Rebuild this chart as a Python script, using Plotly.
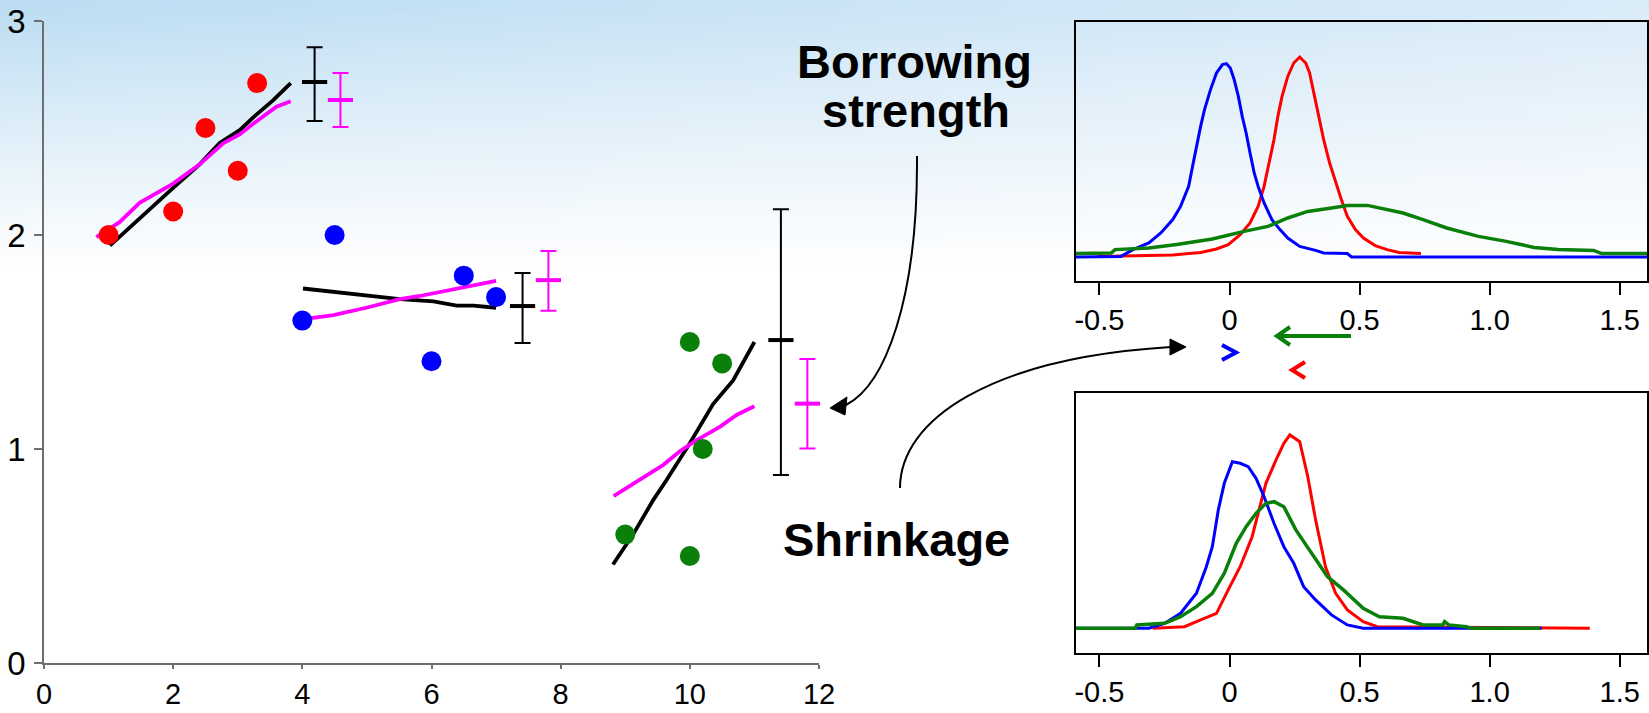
import zlib, struct, base64
import plotly.graph_objects as go

W, H = 1649, 713

# ---------------- main panel data ----------------
red_x = [1.0, 2.0, 2.5, 3.0, 3.3]
red_y = [2.0, 2.11, 2.5, 2.3, 2.71]
blue_x = [4.0, 4.5, 6.0, 6.5, 7.0]
blue_y = [1.6, 2.0, 1.41, 1.81, 1.71]
green_x = [9.0, 10.0, 10.0, 10.2, 10.5]
green_y = [0.6, 0.5, 1.5, 1.0, 1.4]

ols1_x = [1.02, 1.38, 2.0, 2.41, 2.72, 3.03, 3.24, 3.55, 3.82]
ols1_y = [1.95, 2.05, 2.22, 2.33, 2.43, 2.49, 2.55, 2.63, 2.71]
hb1_x = [0.81, 1.17, 1.48, 2.0, 2.41, 2.78, 3.03, 3.24, 3.6, 3.82]
hb1_y = [1.99, 2.06, 2.15, 2.24, 2.33, 2.43, 2.47, 2.52, 2.60, 2.625]

ols2_x = [4.01, 4.48, 4.99, 5.51, 6.03, 6.39, 6.65, 7.0]
ols2_y = [1.75, 1.735, 1.72, 1.70, 1.69, 1.67, 1.67, 1.66]
hb2_x = [3.99, 4.48, 4.99, 5.51, 5.82, 6.03, 6.39, 6.7, 7.0]
hb2_y = [1.606, 1.626, 1.66, 1.70, 1.715, 1.727, 1.75, 1.766, 1.786]

ols3_x = [8.81, 9.12, 9.43, 9.64, 10.0, 10.36, 10.67, 11.0]
ols3_y = [0.46, 0.60, 0.76, 0.855, 1.027, 1.21, 1.32, 1.50]
hb3_x = [8.82, 9.23, 9.59, 9.85, 10.1, 10.47, 10.73, 11.0]
hb3_y = [0.78, 0.856, 0.926, 0.99, 1.04, 1.105, 1.16, 1.20]

# interval estimates: position, centre, upper, lower
ols_ci_x = [4.19, 7.41, 11.41]
ols_ci_mid = [2.715, 1.668, 1.509]
ols_ci_hi = [2.877, 1.822, 2.12]
ols_ci_lo = [2.533, 1.495, 0.879]
hb_ci_x = [4.59, 7.81, 11.82]
hb_ci_mid = [2.631, 1.789, 1.212]
hb_ci_hi = [2.757, 1.925, 1.421]
hb_ci_lo = [2.505, 1.646, 1.002]

main_xticks = [0, 2, 4, 6, 8, 10, 12]
main_yticks = [0, 1, 2, 3]
inset_ticks = [-0.5, 0, 0.5, 1.0, 1.5]
inset_ticktext = ["-0.5", "0", "0.5", "1.0", "1.5"]

# ---------------- inset densities ----------------
top_blue_x = [-0.592, -0.417, -0.371, -0.31, -0.264, -0.218, -0.188, -0.157, -0.142, -0.127, -0.111, -0.096,
              -0.073, -0.05, -0.027, -0.012, 0.003, 0.018, 0.034, 0.049, 0.064, 0.079, 0.095, 0.11, 0.133,
              0.163, 0.194, 0.224, 0.27, 0.331, 0.362, 0.453, 0.469, 1.605]
top_blue_y = [0.0, 0.003, 0.037, 0.07, 0.12, 0.187, 0.253, 0.353, 0.453, 0.553, 0.653, 0.737,
              0.837, 0.92, 0.962, 0.967, 0.945, 0.887, 0.803, 0.703, 0.62, 0.52, 0.42, 0.353, 0.27,
              0.187, 0.137, 0.095, 0.053, 0.033, 0.02, 0.017, 0.0, 0.0]
top_red_x = [-0.508, -0.218, -0.111, -0.05, -0.005, 0.041, 0.079, 0.11, 0.133, 0.156, 0.171, 0.186, 0.202,
             0.224, 0.247, 0.27, 0.293, 0.308, 0.324, 0.339, 0.362, 0.385, 0.408, 0.43, 0.453, 0.484,
             0.515, 0.56, 0.606, 0.652, 0.736]
top_red_y = [0.003, 0.01, 0.023, 0.04, 0.062, 0.112, 0.17, 0.253, 0.353, 0.487, 0.587, 0.703, 0.803,
             0.903, 0.97, 1.0, 0.97, 0.92, 0.82, 0.72, 0.587, 0.47, 0.37, 0.287, 0.203, 0.137,
             0.095, 0.057, 0.037, 0.023, 0.017]
top_green_x = [-0.592, -0.455, -0.44, -0.31, -0.203, -0.066, 0.056, 0.148, 0.224, 0.301, 0.392, 0.453,
               0.53, 0.591, 0.667, 0.744, 0.835, 0.957, 1.064, 1.171, 1.263, 1.4, 1.431, 1.605]
top_green_y = [0.017, 0.02, 0.037, 0.045, 0.062, 0.09, 0.128, 0.153, 0.195, 0.228, 0.245, 0.258,
               0.258, 0.242, 0.22, 0.187, 0.145, 0.103, 0.078, 0.048, 0.037, 0.033, 0.017, 0.017]

bot_blue_x = [-0.592, -0.31, -0.249, -0.188, -0.127, -0.089, -0.066, -0.043, -0.02, 0.011, 0.041, 0.072,
              0.102, 0.133, 0.171, 0.209, 0.247, 0.285, 0.331, 0.392, 0.453, 0.514, 1.2]
bot_blue_y = [0.0, 0.0, 0.025, 0.075, 0.175, 0.308, 0.408, 0.592, 0.725, 0.833, 0.825, 0.808,
              0.75, 0.658, 0.525, 0.408, 0.325, 0.208, 0.142, 0.067, 0.017, 0.0, 0.0]
bot_red_x = [-0.295, -0.173, -0.111, -0.05, -0.005, 0.041, 0.087, 0.118, 0.14, 0.179, 0.209, 0.232,
             0.27, 0.301, 0.331, 0.369, 0.408, 0.453, 0.514, 0.568, 1.385]
bot_red_y = [0.0, 0.008, 0.042, 0.075, 0.192, 0.308, 0.458, 0.608, 0.725, 0.842, 0.925, 0.967,
             0.933, 0.758, 0.542, 0.308, 0.175, 0.092, 0.033, 0.008, 0.0]
bot_green_x = [-0.592, -0.363, -0.356, -0.249, -0.188, -0.127, -0.066, -0.02, 0.026, 0.064, 0.102, 0.14,
               0.171, 0.209, 0.255, 0.316, 0.377, 0.438, 0.514, 0.576, 0.667, 0.744, 0.82, 0.827,
               0.843, 0.911, 0.927, 1.194]
bot_green_y = [0.0, 0.0, 0.017, 0.025, 0.058, 0.108, 0.175, 0.275, 0.425, 0.508, 0.575, 0.625,
               0.633, 0.608, 0.492, 0.375, 0.258, 0.192, 0.1, 0.058, 0.05, 0.017, 0.017, 0.033,
               0.017, 0.008, 0.0, 0.0]

RED, BLUE, GREEN, MAG = "#ff0000", "#0000ff", "#0a800a", "#ff00ff"
FONT = "Liberation Sans, Arial, sans-serif"


# ---------------- background gradient (inline PNG) ----------------
def gradient_png(w, h):
    rows = []
    for j in range(h):
        Y = j * H / (h - 1)
        f = max(0.0, 1.0 - Y / 275.0) ** 1.15
        row = bytearray([0])
        for i in range(w):
            X = i * W / (w - 1)
            t = X / W
            top = (188 + 30 * t, 221 + 14 * t, 242 + 6 * t)
            for c in top:
                row.append(int(round(255 - (255 - c) * f)))
        rows.append(bytes(row))
    raw = b"".join(rows)

    def chunk(tag, data):
        return struct.pack(">I", len(data)) + tag + data + struct.pack(">I", zlib.crc32(tag + data) & 0xffffffff)

    png = (b"\x89PNG\r\n\x1a\n" + chunk(b"IHDR", struct.pack(">IIBBBBB", w, h, 8, 2, 0, 0, 0))
           + chunk(b"IDAT", zlib.compress(raw, 9)) + chunk(b"IEND", b""))
    return "data:image/png;base64," + base64.b64encode(png).decode()


def P(x, y):
    return f"{x / W:.5f},{1 - y / H:.5f}"


fig = go.Figure()

def line(x, y, color, width=3.8):
    fig.add_trace(go.Scatter(x=x, y=y, mode="lines", line=dict(color=color, width=width),
                             xaxis="x", yaxis="y", cliponaxis=False, hoverinfo="skip"))

for xs, ys in [(ols1_x, ols1_y), (ols2_x, ols2_y), (ols3_x, ols3_y)]:
    line(xs, ys, "black")
for xs, ys in [(hb1_x, hb1_y), (hb2_x, hb2_y), (hb3_x, hb3_y)]:
    line(xs, ys, MAG)

for xs, ys, c in [(red_x, red_y, RED), (blue_x, blue_y, BLUE), (green_x, green_y, GREEN)]:
    fig.add_trace(go.Scatter(x=xs, y=ys, mode="markers", marker=dict(color=c, size=20),
                             xaxis="x", yaxis="y", cliponaxis=False))

for xs, mid, hi, lo, c in [(ols_ci_x, ols_ci_mid, ols_ci_hi, ols_ci_lo, "black"),
                           (hb_ci_x, hb_ci_mid, hb_ci_hi, hb_ci_lo, MAG)]:
    fig.add_trace(go.Scatter(
        x=xs, y=mid, mode="markers",
        marker=dict(symbol="line-ew", size=18, line=dict(width=4, color=c), color=c),
        error_y=dict(type="data", symmetric=False,
                     array=[h - m for h, m in zip(hi, mid)],
                     arrayminus=[m - l for m, l in zip(mid, lo)],
                     color=c, thickness=2, width=8),
        xaxis="x", yaxis="y", cliponaxis=False))

for xs, ys, c, w in [(top_red_x, top_red_y, RED, 3), (top_blue_x, top_blue_y, BLUE, 3),
                     (top_green_x, top_green_y, GREEN, 3.5)]:
    fig.add_trace(go.Scatter(x=xs, y=ys, mode="lines", line=dict(color=c, width=w),
                             xaxis="x2", yaxis="y2", hoverinfo="skip"))
for xs, ys, c, w in [(bot_red_x, bot_red_y, RED, 3), (bot_blue_x, bot_blue_y, BLUE, 3),
                     (bot_green_x, bot_green_y, GREEN, 3.5)]:
    fig.add_trace(go.Scatter(x=xs, y=ys, mode="lines", line=dict(color=c, width=w),
                             xaxis="x3", yaxis="y3", hoverinfo="skip"))

axis_common = dict(showgrid=False, zeroline=False, automargin=False)
main_ax = dict(axis_common, showline=True, linecolor="#6e6e6e", linewidth=1.5, ticks="outside",
               tickwidth=1.5, tickcolor="#6e6e6e")
inset_x = dict(axis_common, showline=True, mirror=True, linecolor="black", linewidth=2, ticks="outside",
               ticklen=12, tickwidth=1.5, tickcolor="black", range=[-0.592, 1.605],
               tickvals=inset_ticks, ticktext=inset_ticktext,
               tickfont=dict(size=29, color="black", family=FONT))
inset_y = dict(axis_common, showline=True, mirror=True, linecolor="black", linewidth=2,
               showticklabels=False, ticks="")

fig.update_layout(
    width=W, height=H, autosize=False, margin=dict(l=0, r=0, t=0, b=0, pad=0),
    paper_bgcolor="white", plot_bgcolor="rgba(0,0,0,0)", showlegend=False,
    font=dict(family=FONT, color="black"),
    xaxis=dict(main_ax, domain=[44 / W, 819 / W], range=[0, 12], tickvals=main_xticks, anchor="y",
               ticklen=4, tickfont=dict(size=29, color="black", family=FONT)),
    yaxis=dict(main_ax, domain=[1 - 663 / H, 1 - 21 / H], range=[0, 3], tickvals=main_yticks, anchor="x",
               ticklen=8, ticklabelstandoff=2, tickfont=dict(size=33, color="black", family=FONT)),
    xaxis2=dict(inset_x, domain=[1075.5 / W, 1647 / W], anchor="y2"),
    yaxis2=dict(inset_y, domain=[1 - 281 / H, 1 - 22 / H], range=[-0.12, 1.175], anchor="x2"),
    xaxis3=dict(inset_x, domain=[1075.5 / W, 1647 / W], anchor="y3"),
    yaxis3=dict(inset_y, domain=[1 - 653 / H, 1 - 393 / H], range=[-0.1235, 1.1765], anchor="x3"),
    images=[dict(source=gradient_png(165, 72), xref="paper", yref="paper", x=0, y=1,
                 sizex=1, sizey=1, sizing="stretch", layer="below", xanchor="left", yanchor="top")],
)

shapes = []
shapes.append(dict(type="path", xref="paper", yref="paper",
                   path=f"M {P(917,156)} C {P(918,300)} {P(885,385)} {P(846,405)}",
                   line=dict(color="black", width=2)))
shapes.append(dict(type="path", xref="paper", yref="paper",
                   path=f"M {P(830,408)} L {P(847,397)} L {P(845,415)} Z",
                   fillcolor="black", line=dict(color="black", width=1)))
shapes.append(dict(type="path", xref="paper", yref="paper",
                   path=f"M {P(900,488)} C {P(900,420)} {P(990,358)} {P(1171,347)}",
                   line=dict(color="black", width=2)))
shapes.append(dict(type="path", xref="paper", yref="paper",
                   path=f"M {P(1186,347)} L {P(1170,339)} L {P(1170,355)} Z",
                   fillcolor="black", line=dict(color="black", width=1)))
shapes.append(dict(type="path", xref="paper", yref="paper",
                   path=f"M {P(1351,336)} L {P(1279,336)}", line=dict(color=GREEN, width=4)))
shapes.append(dict(type="path", xref="paper", yref="paper",
                   path=f"M {P(1290,327)} L {P(1277,336)} L {P(1290,345)}", line=dict(color=GREEN, width=4)))
shapes.append(dict(type="path", xref="paper", yref="paper",
                   path=f"M {P(1222,345)} L {P(1236,352.5)} L {P(1222,360)}", line=dict(color=BLUE, width=4)))
shapes.append(dict(type="path", xref="paper", yref="paper",
                   path=f"M {P(1305,362)} L {P(1292,370)} L {P(1305,378)}", line=dict(color=RED, width=4)))
fig.update_layout(shapes=shapes)

for text, x, y in [("<b>Borrowing</b>", 914, 61), ("<b>strength</b>", 916, 111), ("<b>Shrinkage</b>", 897, 539)]:
    fig.add_annotation(text=text, x=x / W, y=1 - y / H, xref="paper", yref="paper",
                       xanchor="center", yanchor="middle", showarrow=False,
                       font=dict(family=FONT, size=47, color="black"))

fig.write_html("out.html", config={"displayModeBar": False},
               post_script="document.body.style.margin='0';document.body.style.overflow='hidden';")
